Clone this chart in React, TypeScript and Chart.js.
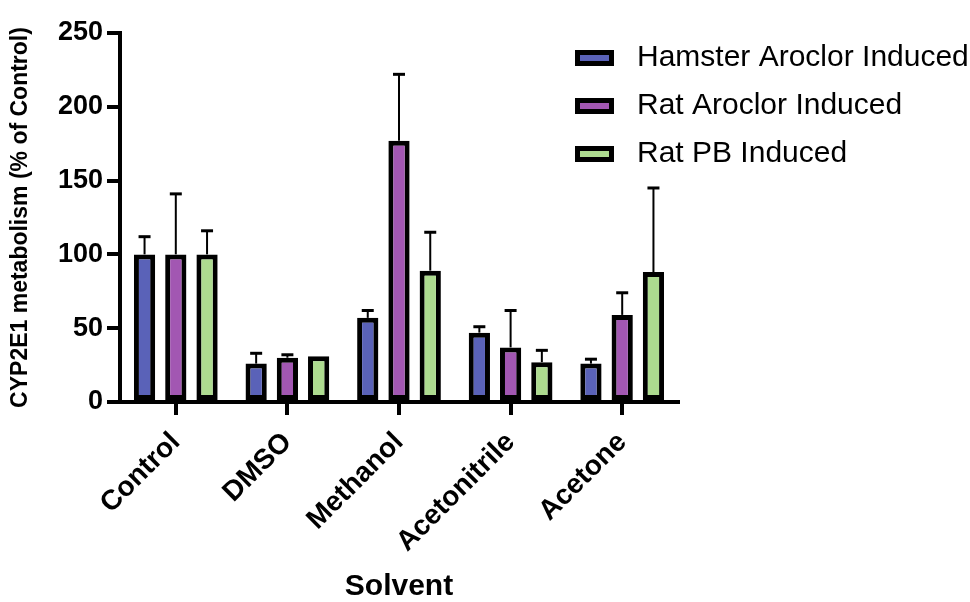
import React, { useEffect, useRef } from "react";
import { Chart, registerables } from "chart.js";

Chart.register(...registerables);

const categories = ["Control", "DMSO", "Methanol", "Acetonitrile", "Acetone"];
const seriesNames = ["Hamster Aroclor Induced", "Rat Aroclor Induced", "Rat PB Induced"];
const hamsterAroclor = [100, 26, 57, 47, 26];
const hamsterAroclorErr = [12, 7, 5, 4, 3];
const ratAroclor = [100, 30, 177, 37, 59];
const ratAroclorErr = [41, 2, 45, 25, 15];
const ratPB = [100, 31, 89, 27, 88];
const ratPBErr = [16, 0, 26, 8, 57];
const seriesColors = ["#5a62b8", "#a257b2", "#addb8f"];
const yTicks = [0, 50, 100, 150, 200, 250];

const FONT = "'Liberation Sans', Arial, Helvetica, sans-serif";

const errorBarPlugin = {
  id: "errorBars",
  afterDatasetsDraw(chart: any) {
    const ctx = chart.ctx;
    const yScale = chart.scales.y;
    chart.data.datasets.forEach((ds: any, i: number) => {
      const meta = chart.getDatasetMeta(i);
      const errs: number[] = ds.errors || [];
      meta.data.forEach((el: any, j: number) => {
        const e = errs[j];
        if (!e) return;
        const v = ds.data[j];
        const yTop = yScale.getPixelForValue(v + e);
        const yBar = yScale.getPixelForValue(v);
        ctx.save();
        ctx.strokeStyle = "#000";
        ctx.lineWidth = 2;
        ctx.beginPath();
        ctx.moveTo(el.x, yBar);
        ctx.lineTo(el.x, yTop);
        ctx.stroke();
        ctx.lineWidth = 3;
        ctx.beginPath();
        ctx.moveTo(el.x - 6, yTop);
        ctx.lineTo(el.x + 6, yTop);
        ctx.stroke();
        ctx.restore();
      });
    });
  },
};

const legendPlugin = {
  id: "customLegend",
  afterDraw(chart: any) {
    const ctx = chart.ctx;
    const rows = [58, 106, 154];
    chart.data.datasets.forEach((ds: any, i: number) => {
      const cy = rows[i];
      ctx.save();
      ctx.fillStyle = "#000";
      ctx.fillRect(575, cy - 8, 39, 16);
      ctx.fillStyle = ds.backgroundColor;
      ctx.fillRect(580, cy - 3, 29, 6);
      ctx.fillStyle = "#000";
      ctx.font = `30px ${FONT}`;
      ctx.textBaseline = "middle";
      ctx.textAlign = "left";
      ctx.fillText(ds.label, 637, cy);
      ctx.restore();
    });
  },
};

export default function App() {
  const ref = useRef<HTMLCanvasElement>(null);
  useEffect(() => {
    if (!ref.current) return;
    const mk = (label: string, data: number[], errors: number[], color: string) => ({
      label,
      data,
      errors,
      backgroundColor: color,
      borderColor: "#000",
      borderWidth: 5,
      borderSkipped: false,
      categoryPercentage: 0.84,
      barPercentage: 0.68,
    });
    const chart = new Chart(ref.current, {
      type: "bar",
      data: {
        labels: categories,
        datasets: [
          mk(seriesNames[0], hamsterAroclor, hamsterAroclorErr, seriesColors[0]),
          mk(seriesNames[1], ratAroclor, ratAroclorErr, seriesColors[1]),
          mk(seriesNames[2], ratPB, ratPBErr, seriesColors[2]),
        ] as any,
      },
      options: {
        animation: false,
        responsive: false,
        devicePixelRatio: 1,
        layout: { padding: { left: 0, top: 33, right: 292, bottom: 0 } },
        plugins: { legend: { display: false }, tooltip: { enabled: false } },
        scales: {
          x: {
            afterFit: (s: any) => {
              s.height = 200;
            },
            grid: {
              display: true,
              drawOnChartArea: false,
              drawTicks: true,
              offset: false,
              tickLength: 13,
              lineWidth: 4,
              color: "#000",
            },
            border: { display: true, width: 4, color: "#000" },
            ticks: {
              color: "#000",
              font: { family: FONT, size: 28, weight: "bold" },
              maxRotation: 45,
              minRotation: 45,
              padding: 11,
            },
            title: {
              display: true,
              text: "Solvent",
              color: "#000",
              font: { family: FONT, size: 30, weight: "bold", lineHeight: 1 },
              padding: { top: 0, bottom: 0 },
            },
          },
          y: {
            min: 0,
            max: 250,
            afterFit: (s: any) => {
              s.width = 120;
            },
            afterBuildTicks: (s: any) => {
              s.ticks = yTicks.map((v) => ({ value: v }));
            },
            grid: {
              display: true,
              drawOnChartArea: false,
              drawTicks: true,
              tickLength: 13,
              lineWidth: 4,
              color: "#000",
            },
            border: { display: true, width: 4, color: "#000" },
            ticks: {
              color: "#000",
              font: { family: FONT, size: 27, weight: "bold" },
              padding: 4,
            },
            title: {
              display: true,
              text: "CYP2E1 metabolism (% of Control)",
              color: "#000",
              font: { family: FONT, size: 23, weight: "bold", lineHeight: 1.2 },
              padding: { top: 7, bottom: 0 },
            },
          },
        },
      } as any,
      plugins: [errorBarPlugin, legendPlugin],
    });
    return () => chart.destroy();
  }, []);
  return (
    <div style={{ position: "absolute", left: 0, top: 0, width: 970, height: 602, background: "#fff" }}>
      <canvas ref={ref} width={970} height={602} style={{ width: 970, height: 602 }} />
    </div>
  );
}
